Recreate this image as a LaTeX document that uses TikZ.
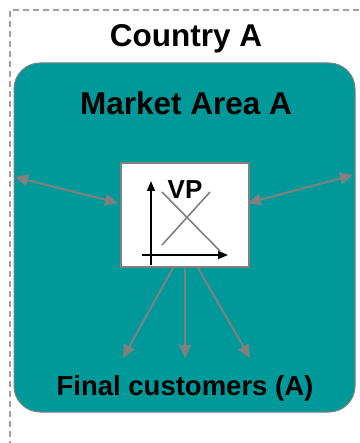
\documentclass[tikz,border=0pt]{standalone}
\usepackage{fontspec}
\setmainfont{Liberation Sans}
\usetikzlibrary{arrows.meta}
\definecolor{tealfill}{RGB}{0,153,153}
\definecolor{arrgray}{RGB}{128,128,128}
\definecolor{dashgray}{RGB}{160,160,160}
\begin{document}
\begin{tikzpicture}[x=1pt,y=-1pt,
  lbl/.style={font=\bfseries\fontsize{31.5}{34}\selectfont, inner sep=0pt},
  flow/.style={draw=arrgray, line width=2pt, -{Triangle[length=13pt,width=12pt]}},
  bflow/.style={draw=arrgray, line width=2pt, {Triangle[length=13pt,width=12pt]}-{Triangle[length=13pt,width=12pt]}},
  axis/.style={draw=black, line width=1.6pt, -{Triangle[length=10pt,width=8pt]}},
  curve/.style={draw=arrgray, line width=1.6pt}]
\useasboundingbox (0,0) rectangle (359,443);
\fill[white] (0,0) rectangle (359,443);
\draw[dashgray, line width=1.2pt, dash pattern=on 6pt off 4pt] (359,10) -| (10,443);
\node[lbl] (country) at (186,39) {Country A};
\node[draw=arrgray, line width=1pt, fill=tealfill, rounded corners=26pt, minimum width=341pt, minimum height=349pt, inner sep=0pt] (market) at (184.5,237.5) {};
\node[lbl] (marketlbl) at (186,103) {Market Area A};
\node[draw=arrgray, line width=1.5pt, fill=white, minimum width=128pt, minimum height=104pt, inner sep=0pt] (vp) at (185,215) {};
\coordinate (ax0) at (151,265);
\coordinate (axtop) at (151,181);
\coordinate (axl) at (142,255);
\coordinate (axr) at (228,255);
\draw[axis] (ax0) -- (axtop);
\draw[axis] (axl) -- (axr);
\coordinate (d1) at (162,192);
\coordinate (d2) at (220,251);
\coordinate (u1) at (162,245);
\coordinate (u2) at (210,192);
\draw[curve] (d1) -- (d2);
\draw[curve] (u1) -- (u2);
\node[font=\bfseries\fontsize{26}{28}\selectfont, inner sep=0pt] (vplbl) at (185,190) {VP};
\node[lbl, font=\bfseries\fontsize{27.5}{30}\selectfont] (cust) at (185,388) {Final customers (A)};
\coordinate (lA) at (15,177);
\coordinate (lB) at (118,203);
\coordinate (rA) at (248,203);
\coordinate (rB) at (353,175);
\draw[bflow] (lA) -- (lB);
\draw[bflow] (rA) -- (rB);
\coordinate (s1) at (173,268);
\coordinate (s2) at (185,268);
\coordinate (s3) at (198,268);
\coordinate (e1) at (123,358);
\coordinate (e2) at (185,358);
\coordinate (e3) at (250,358);
\draw[flow] (s1) -- (e1);
\draw[flow] (s2) -- (e2);
\draw[flow] (s3) -- (e3);
\end{tikzpicture}
\end{document}
